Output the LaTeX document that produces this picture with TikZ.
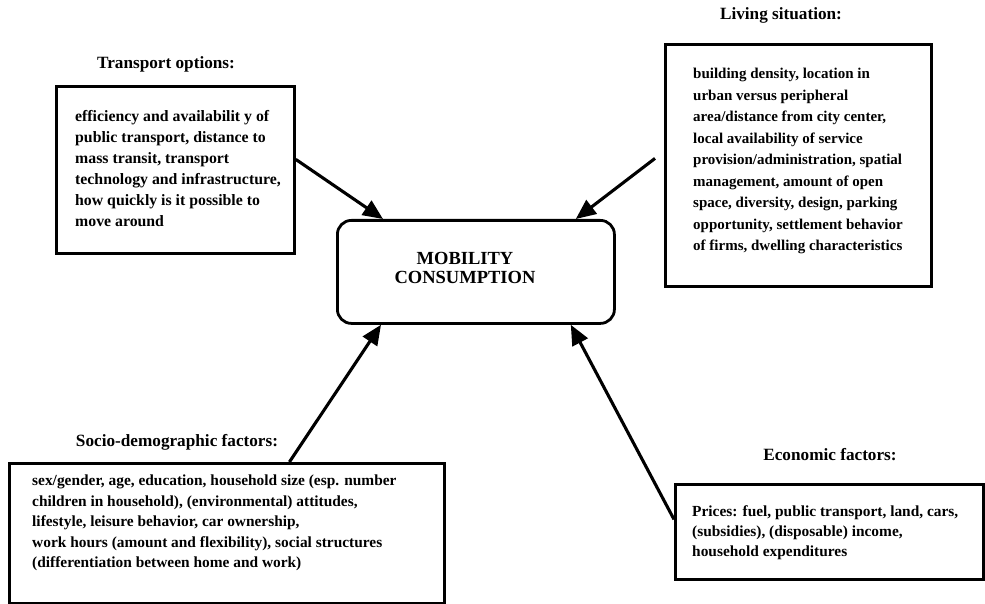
\documentclass[tikz,border=0pt]{standalone}
\usepackage{fontspec}
\setmainfont{Liberation Serif}
\usetikzlibrary{arrows.meta,calc}
\begin{document}
\begin{tikzpicture}[x=1pt,y=-1pt,
  box/.style={draw, line width=2.8pt, inner sep=0pt, anchor=north west},
  body/.style={anchor=north west, inner sep=0pt, align=left, font=\bfseries\fontsize{15.8}{21}\selectfont},
  ttl/.style={anchor=base, inner sep=0pt, font=\bfseries\fontsize{17.2}{20}\selectfont},
  arr/.style={line width=3.1pt, -{Triangle[length=20pt,width=17pt]}}]
\useasboundingbox (0,0) rectangle (985,604);
% boxes
\node[box, minimum width=238pt, minimum height=167pt] (tbox) at (55,85) {};
\node[box, minimum width=266pt, minimum height=242pt] (lbox) at (664,43) {};
\node[box, minimum width=435pt, minimum height=140pt] (sbox) at (8,462) {};
\node[box, minimum width=308pt, minimum height=95pt] (ebox) at (674,483) {};
\node[box, rounded corners=14pt, minimum width=277pt, minimum height=103pt] (mc) at (336,219) {};
% titles
\node[ttl] (ttitle) at (166,69) {Transport options:};
\node[ttl] (ltitle) at (781,20) {Living situation:};
\node[ttl] (stitle) at (177,446) {Socio-demographic factors:};
\node[ttl] (etitle) at (830,460) {Economic factors:};
% texts
\node[body] (ttext) at (75,110) {efficiency and availabilit y of\\public transport, distance to\\mass transit, transport\\technology and infrastructure,\\how quickly is it possible to\\move around};
\node[body, font=\bfseries\fontsize{15}{21.5}\selectfont] (ltext) at (693,68) {building density, location in\\urban versus peripheral\\area/distance from city center,\\local availability of service\\provision/administration, spatial\\management, amount of open\\space, diversity, design, parking\\opportunity, settlement behavior\\of firms, dwelling characteristics};
\node[body, font=\bfseries\fontsize{15.4}{20.5}\selectfont] (stext) at (32,475) {sex/gender, age, education, household size (esp. number\\children in household), (environmental) attitudes,\\lifestyle, leisure behavior, car ownership,\\work hours (amount and flexibility), social structures\\(differentiation between home and work)};
\node[body, font=\bfseries\fontsize{15.4}{20}\selectfont] (etext) at (692,505) {Prices: fuel, public transport, land, cars,\\(subsidies), (disposable) income,\\household expenditures};
\node[anchor=north, inner sep=0pt, align=center, font=\bfseries\fontsize{18.5}{19}\selectfont] (mctext) at (465,252) {MOBILITY\\CONSUMPTION};
% arrows
\draw[arr] ([yshift=10.5pt]tbox.east) -- ([xshift=47pt]mc.north west);
\draw[arr] ([xshift=-9pt,yshift=7pt]lbox.west) -- ([xshift=-40pt]mc.north east);
\draw[arr] ([xshift=62.5pt]sbox.north) -- ([xshift=45pt]mc.south west);
\draw[arr] ([yshift=12.5pt]ebox.west) -- ([xshift=-45pt]mc.south east);
\end{tikzpicture}
\end{document}
